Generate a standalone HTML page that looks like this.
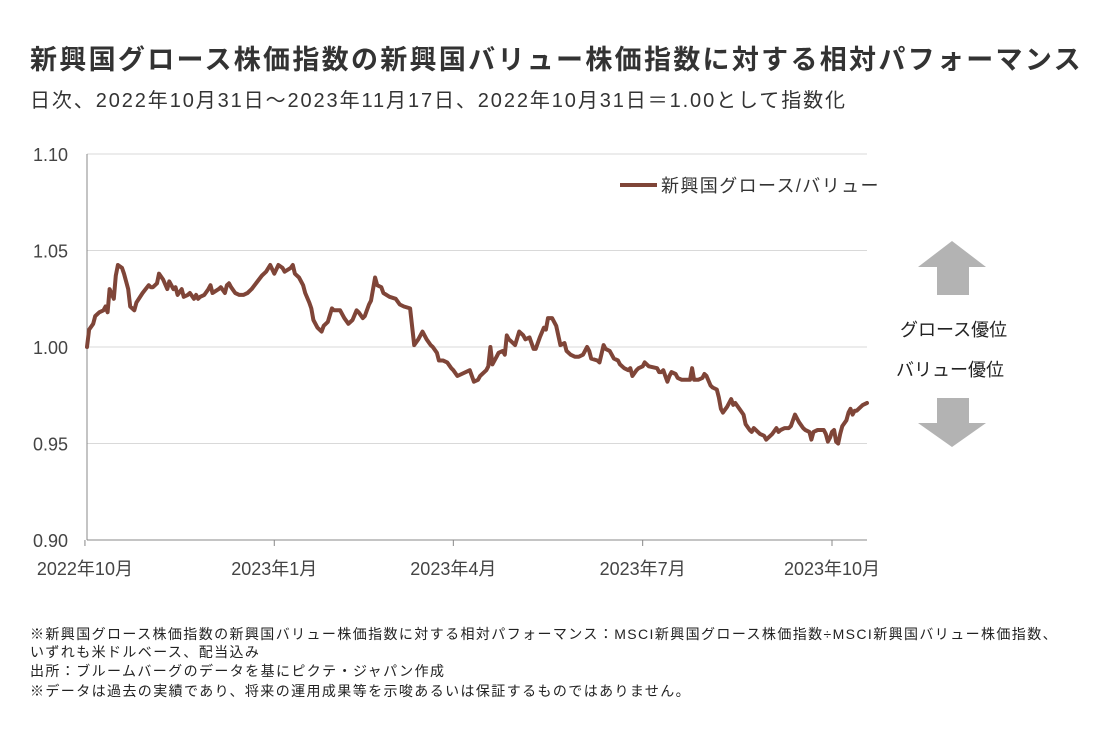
<!DOCTYPE html>
<html><head><meta charset="utf-8">
<style>
body{margin:0;background:#fff;width:1114px;height:736px;overflow:hidden;font-family:"Liberation Sans","Noto Sans CJK JP",sans-serif;color:#222;}
.t{position:absolute;white-space:nowrap;}
.fn{font-size:14px;letter-spacing:1.4px;}
</style></head>
<body>
<div class="t" style="left:30px;top:38px;font-size:27px;font-weight:bold;color:#333;letter-spacing:2.3px;">新興国グロース株価指数の新興国バリュー株価指数に対する相対パフォーマンス</div>
<div class="t" style="left:30px;top:84px;font-size:20px;color:#333;letter-spacing:1.9px;">日次、2022年10月31日～2023年11月17日、2022年10月31日＝1.00として指数化</div>
<svg id="chart" width="1114" height="736" style="position:absolute;left:0;top:0" xmlns="http://www.w3.org/2000/svg" font-family="Liberation Sans, Noto Sans CJK JP, sans-serif"></svg>
<div class="t fn" style="left:30px;top:624px;">※新興国グロース株価指数の新興国バリュー株価指数に対する相対パフォーマンス：MSCI新興国グロース株価指数÷MSCI新興国バリュー株価指数、</div>
<div class="t fn" style="left:30px;top:642px;">いずれも米ドルベース、配当込み</div>
<div class="t fn" style="left:30px;top:661px;">出所：ブルームバーグのデータを基にピクテ・ジャパン作成</div>
<div class="t fn" style="left:30px;top:681px;">※データは過去の実績であり、将来の運用成果等を示唆あるいは保証するものではありません。</div>
<script>
const dayOffsets=[0,1,3,4,6,8,9,10,11,13,14,15,17,18,19,20,21,23,24,27,30,31,32,34,35,37,39,40,42,43,44,46,47,49,50,52,53,54,55,57,59,60,61,64,65,67,68,69,70,72,74,76,78,80,85,87,89,91,93,95,96,99,100,101,103,105,106,108,109,110,112,114,115,117,119,120,123,125,127,129,131,132,134,135,137,138,140,141,143,144,147,150,152,154,157,159,161,162,163,165,167,168,170,171,173,175,177,178,180,186,188,190,191,194,195,196,197,199,200,202,203,204,205,206,208,210,212,213,215,217,218,220,222,223,224,226,228,230,232,233,235,237,239,241,243,244,245,248,249,251,252,254,256,258,259,261,263,264,265,267,268,270,271,272,273,277,278,279,280,281,282,283,284,286,287,289,290,292,293,294,295,296,297,299,300,301,303,304,306,307,308,309,311,313,314,315,317,319,320,322,323,324,327,329,330,332,333,335,336,337,339,341,342,344,345,346,348,349,351,352,353,355,357,358,359,360,361,362,363,364,365,366,367,369,370,371,372,373,374,376,377,379];
const values=[1.000,1.009,1.012,1.016,1.018,1.019,1.021,1.018,1.030,1.025,1.037,1.0425,1.041,1.038,1.034,1.030,1.021,1.019,1.023,1.028,1.032,1.031,1.031,1.033,1.038,1.035,1.030,1.034,1.030,1.031,1.027,1.030,1.026,1.027,1.028,1.025,1.027,1.025,1.026,1.027,1.030,1.032,1.028,1.030,1.031,1.028,1.032,1.033,1.031,1.028,1.027,1.027,1.028,1.030,1.037,1.039,1.0425,1.038,1.0425,1.041,1.039,1.041,1.0425,1.038,1.036,1.032,1.028,1.023,1.020,1.014,1.010,1.008,1.011,1.013,1.020,1.019,1.019,1.015,1.012,1.014,1.019,1.018,1.015,1.016,1.022,1.024,1.036,1.032,1.031,1.028,1.026,1.025,1.022,1.021,1.020,1.001,1.004,1.006,1.008,1.004,1.001,1.000,0.997,0.993,0.993,0.992,0.989,0.988,0.985,0.988,0.982,0.983,0.985,0.988,0.990,1.000,0.991,0.995,0.997,0.998,0.996,1.006,1.004,1.003,1.001,1.008,1.006,1.004,1.005,0.999,0.999,1.005,1.010,1.009,1.015,1.015,1.011,1.001,1.002,0.998,0.996,0.995,0.995,0.996,1.000,0.998,0.994,0.993,0.992,1.001,0.999,0.998,0.994,0.993,0.991,0.989,0.988,0.989,0.985,0.988,0.989,0.990,0.992,0.991,0.990,0.989,0.987,0.987,0.988,0.985,0.982,0.985,0.987,0.986,0.984,0.983,0.983,0.983,0.983,0.989,0.983,0.983,0.983,0.984,0.986,0.985,0.980,0.979,0.978,0.974,0.968,0.966,0.969,0.973,0.970,0.971,0.968,0.965,0.960,0.957,0.956,0.958,0.955,0.954,0.952,0.954,0.955,0.958,0.956,0.957,0.958,0.958,0.959,0.965,0.963,0.961,0.958,0.957,0.956,0.952,0.956,0.957,0.957,0.957,0.955,0.951,0.953,0.956,0.957,0.951,0.950,0.955,0.959,0.962,0.966,0.968,0.965,0.967,0.967,0.969,0.970,0.971];
const yTicks=[0.90,0.95,1.00,1.05,1.10];
const yTickLabels=["0.90","0.95","1.00","1.05","1.10"];
const xTickDays=[-1,91,178,270,362];
const xTickLabels=["2022年10月","2023年1月","2023年4月","2023年7月","2023年10月"];
const seriesName="新興国グロース/バリュー";

const svg=document.getElementById('chart');
const NS='http://www.w3.org/2000/svg';
const X0=87,X1=867,Y0=540,Y1=154;
function xs(d){return X0+d*(X1-X0)/379;}
function ys(v){return Y0-(v-0.90)/(0.20)*(Y0-Y1);}
function mk(tag,attrs){const e=document.createElementNS(NS,tag);for(const k in attrs)e.setAttribute(k,attrs[k]);svg.appendChild(e);return e;}

yTicks.forEach((v,i)=>{
  const g=mk('line',{x1:X0,x2:X1,y1:ys(v),y2:ys(v),stroke:'#d9d9d9','stroke-width':1});
  
  
  const t=mk('text',{x:68,y:ys(v)+7,'text-anchor':'end','font-size':18,fill:'#444'});
  t.textContent=yTickLabels[i];
  
  
});
const ax=mk('line',{x1:X0,x2:X0,y1:Y1,y2:Y0,stroke:'#888','stroke-width':1});


const bx=mk('line',{x1:X0,x2:X1,y1:Y0,y2:Y0,stroke:'#888','stroke-width':1});


xTickDays.forEach((d,i)=>{
  const tk=mk('line',{x1:xs(d),x2:xs(d),y1:Y0,y2:Y0+6,stroke:'#888'});
  
  
  const t=mk('text',{x:xs(d),y:575,'text-anchor':'middle','font-size':18,fill:'#444'});
  t.textContent=xTickLabels[i];
  
  
});
const pts=dayOffsets.map((d,i)=>xs(d).toFixed(1)+','+ys(values[i]).toFixed(1)).join(' ');
const pl=mk('polyline',{points:pts,fill:'none',stroke:'#7f4538','stroke-width':4,'stroke-linejoin':'round','stroke-linecap':'round'});


const ll=mk('line',{x1:620,x2:657,y1:185,y2:185,stroke:'#7f4538','stroke-width':4});


const lt=mk('text',{x:661,y:192,'font-size':18,fill:'#333','letter-spacing':'1.4'});
lt.textContent=seriesName;


const ua=mk('polygon',{points:'952,241 986,267 969,267 969,295 937,295 937,267 918,267',fill:'#b3b3b3'});


const da=mk('polygon',{points:'937,398 969,398 969,423 986,423 952,447 918,423 937,423',fill:'#b3b3b3'});


const gt=mk('text',{x:900,y:336,'font-size':18,fill:'#222'});
gt.textContent='グロース優位';


const vt=mk('text',{x:896,y:376,'font-size':18,fill:'#222'});
vt.textContent='バリュー優位';


</script>
</body></html>
